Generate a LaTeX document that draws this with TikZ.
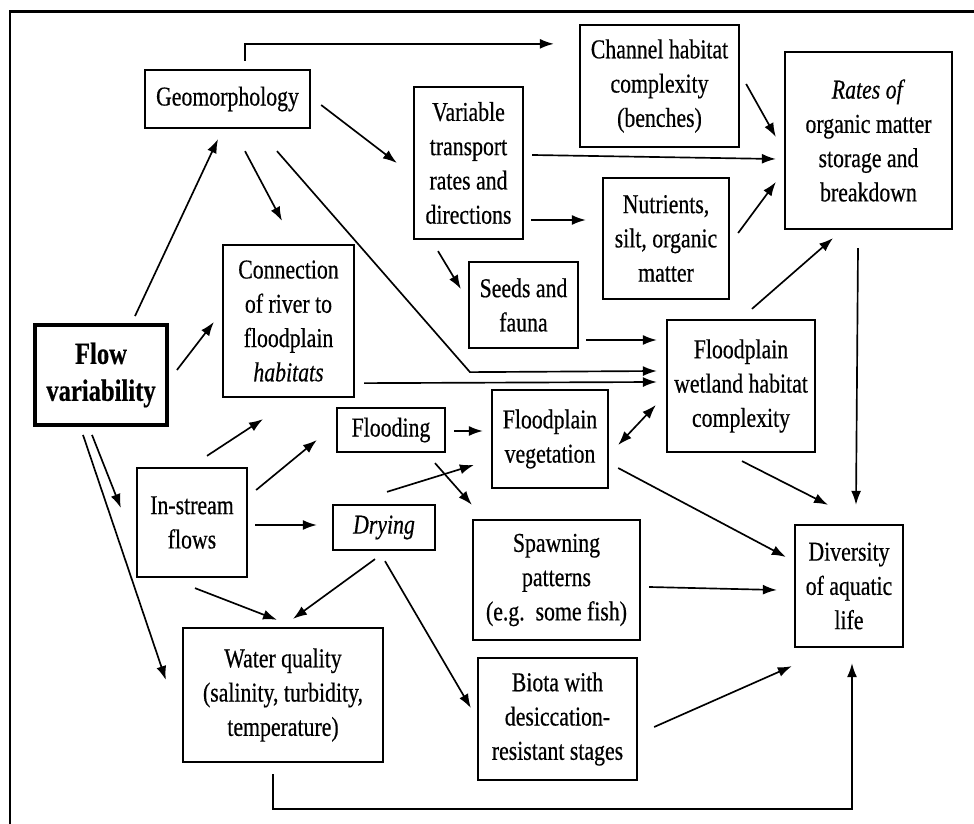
\documentclass[tikz,border=0pt]{standalone}
\usepackage{fontspec}
\setmainfont{Liberation Serif}[FakeStretch=0.8, FakeBold=0.5]
\usetikzlibrary{arrows.meta}

\begin{document}
\begin{tikzpicture}[
    >={Latex[length=2.8mm,width=2mm]},
    box/.style={draw, line width=1.3pt, align=center, inner sep=2pt,
        font=\fontsize{15.5}{19.5}\selectfont},
    arr/.style={->, line width=0.95pt}
  ]
    \useasboundingbox (0,0) rectangle (19.48,16.48);

    % Frame
    \draw[line width=1.7pt] (0.2,0) -- (0.2,16.24) -- (19.48,16.24);

    % Boxes
    \node[box, minimum width=3.3cm, minimum height=1.16cm] (geo) at (4.55,14.50) {Geomorphology};
    \node[box, minimum width=3.18cm, minimum height=2.44cm] (chan) at (13.19,14.76) {Channel habitat\\complexity\\(benches)};
    \node[box, minimum width=3.34cm, minimum height=3.54cm] (rates) at (17.37,13.67) {\textit{Rates of}\\organic matter\\storage and\\breakdown};
    \node[box, minimum width=2.18cm, minimum height=3.04cm] (trans) at (9.37,13.22) {Variable\\transport\\rates and\\directions};
    \node[box, minimum width=2.52cm, minimum height=2.42cm] (nutr) at (13.32,11.71) {Nutrients,\\silt, organic\\matter};
    \node[box, minimum width=2.18cm, minimum height=1.72cm] (seeds) at (10.47,10.38) {Seeds and\\fauna};
    \node[box, minimum width=2.62cm, minimum height=3.04cm] (conn) at (5.77,10.06) {Connection\\of river to\\floodplain\\\textit{habitats}};
    \node[box, line width=2.2pt, minimum width=2.64cm, minimum height=2cm,
        font=\fontsize{17.5}{21}\selectfont\bfseries] (flow) at (2.02,8.98) {Flow\\variability};
    \node[box, minimum width=2.96cm, minimum height=2.64cm] (wet) at (14.82,8.76) {Floodplain\\wetland habitat\\complexity};
    \node[box, minimum width=2.16cm, minimum height=0.88cm] (flood) at (7.82,7.88) {Flooding};
    \node[box, minimum width=2.32cm, minimum height=1.96cm] (veg) at (11.00,7.70) {Floodplain\\vegetation};
    \node[box, minimum width=2.2cm, minimum height=2.18cm] (instr) at (3.84,6.03) {In-stream\\flows};
    \node[box, minimum width=2.04cm, minimum height=0.9cm] (dry) at (7.68,5.93) {\textit{Drying}};
    \node[box, minimum width=3.34cm, minimum height=2.4cm] (spawn) at (11.13,4.88) {Spawning\\patterns\\(e.g.\ \ some fish)};
    \node[box, minimum width=2.16cm, minimum height=2.44cm] (div) at (16.98,4.76) {Diversity\\of aquatic\\life};
    \node[box, minimum width=4cm, minimum height=2.68cm] (water) at (5.66,2.58) {Water quality\\(salinity, turbidity,\\temperature)};
    \node[box, minimum width=3.18cm, minimum height=2.44cm] (biota) at (11.15,2.10) {Biota with\\desiccation-\\resistant stages};

    % Arrows from Geomorphology
    \draw[arr] ([xshift=0.35cm,yshift=0.16cm]geo.north) |- ([xshift=-0.5cm,yshift=-0.4cm]chan.north west);
    \draw[arr] ([xshift=0.2cm,yshift=-0.12cm]geo.east) -- ([xshift=-0.32cm]trans.west);
    \draw[arr] ([xshift=0.35cm,yshift=-0.44cm]geo.south) -- ([xshift=-0.13cm,yshift=0.46cm]conn.north);
    \draw[arr] ([xshift=0.99cm,yshift=-0.44cm]geo.south) -- ++(3.86,-4.42) -- ([xshift=-0.18cm,yshift=0.3cm]wet.west);

    % Arrows from Flow variability
    \draw[arr] ([xshift=0.68cm,yshift=0.14cm]flow.north) -- ([xshift=-0.19cm,yshift=-0.2cm]geo.south);
    \draw[arr] ([xshift=0.16cm,yshift=0.1cm]flow.east) -- ([xshift=-0.16cm,yshift=-0.02cm]conn.west);
    \draw[arr] ([xshift=-0.18cm,yshift=-0.16cm]flow.south) -- ([xshift=-0.3cm,yshift=0.29cm]instr.west);
    \draw[arr] ([xshift=-0.36cm,yshift=-0.16cm]flow.south) -- ([xshift=-0.32cm,yshift=0.3cm]water.west);

    % Connection to wetland
    \draw[arr] ([xshift=0.18cm,yshift=0.3cm]conn.south east) -- ([xshift=-0.18cm,yshift=0.08cm]wet.west);

    % Arrows from In-stream flows
    \draw[arr] ([xshift=0.3cm,yshift=0.22cm]instr.north) -- ([xshift=-0.51cm,yshift=-0.42cm]conn.south);
    \draw[arr] ([xshift=0.16cm,yshift=0.65cm]instr.east) -- ([xshift=-0.38cm,yshift=-0.2cm]flood.west);
    \draw[arr] ([xshift=0.14cm,yshift=-0.05cm]instr.east) -- ([xshift=-0.3cm,yshift=0.05cm]dry.west);
    \draw[arr] ([xshift=0.06cm,yshift=-0.2cm]instr.south) -- ([xshift=-0.12cm,yshift=0.14cm]water.north);

    % Flooding and Drying
    \draw[arr] ([xshift=0.16cm,yshift=-0.02cm]flood.east) -- ([xshift=-0.16cm,yshift=0.16cm]veg.west);
    \draw[arr] ([xshift=0.88cm,yshift=-0.2cm]flood.south) -- ([yshift=0.28cm]spawn.north west);
    \draw[arr] ([xshift=0.06cm,yshift=0.24cm]dry.north) -- ([xshift=-0.34cm,yshift=-0.52cm]veg.west);
    \draw[arr] ([xshift=-0.18cm,yshift=-0.16cm]dry.south) -- ([xshift=0.2cm,yshift=0.16cm]water.north);
    \draw[arr] ([xshift=0.02cm,yshift=-0.2cm]dry.south) -- ([xshift=-0.12cm,yshift=0.22cm]biota.west);

    % Variable transport
    \draw[arr] ([xshift=-0.61cm,yshift=-0.22cm]trans.south) -- ([xshift=-0.14cm,yshift=0.32cm]seeds.west);
    \draw[arr] ([xshift=0.16cm,yshift=0.16cm]trans.east) -- ([xshift=-0.16cm,yshift=-0.37cm]rates.west);
    \draw[arr] ([xshift=0.14cm,yshift=-1.14cm]trans.east) -- ([xshift=-0.32cm,yshift=0.37cm]nutr.west);

    % Into Rates
    \draw[arr] ([xshift=0.12cm,yshift=0.04cm]chan.east) -- ([xshift=-0.16cm,yshift=0.07cm]rates.west);
    \draw[arr] ([xshift=0.16cm,yshift=0.11cm]nutr.east) -- ([xshift=-0.16cm,yshift=-0.83cm]rates.west);
    \draw[arr] ([xshift=0.22cm,yshift=0.2cm]wet.north) -- ([xshift=-0.71cm,yshift=-0.16cm]rates.south);

    % Into wetland
    \draw[arr] ([xshift=0.14cm,yshift=-0.7cm]seeds.east) -- ([xshift=-0.18cm,yshift=0.92cm]wet.west);
    \draw[arr, <->] ([xshift=0.18cm,yshift=-0.12cm]veg.east) -- ([xshift=-0.2cm,yshift=-0.38cm]wet.west);

    % Into Diversity
    \draw[arr] ([xshift=0.18cm,yshift=-0.58cm]veg.east) -- ([xshift=-0.16cm,yshift=0.58cm]div.west);
    \draw[arr] ([xshift=0.02cm,yshift=-0.16cm]wet.south) -- ([xshift=-0.42cm,yshift=0.38cm]div.north);
    \draw[arr] ([xshift=-0.21cm,yshift=-0.36cm]rates.south) -- ([xshift=0.14cm,yshift=0.38cm]div.north);
    \draw[arr] ([xshift=0.16cm,yshift=-0.14cm]spawn.east) -- ([xshift=-0.34cm,yshift=-0.08cm]div.west);
    \draw[arr] ([xshift=0.32cm,yshift=-0.16cm]biota.east) -- ([xshift=-0.04cm,yshift=-0.36cm]div.south west);
    \draw[arr] ([xshift=-0.2cm,yshift=-0.22cm]water.south) -- ++(0,-0.7) -| ([xshift=0.06cm,yshift=-0.3cm]div.south);
\end{tikzpicture}
\end{document}
